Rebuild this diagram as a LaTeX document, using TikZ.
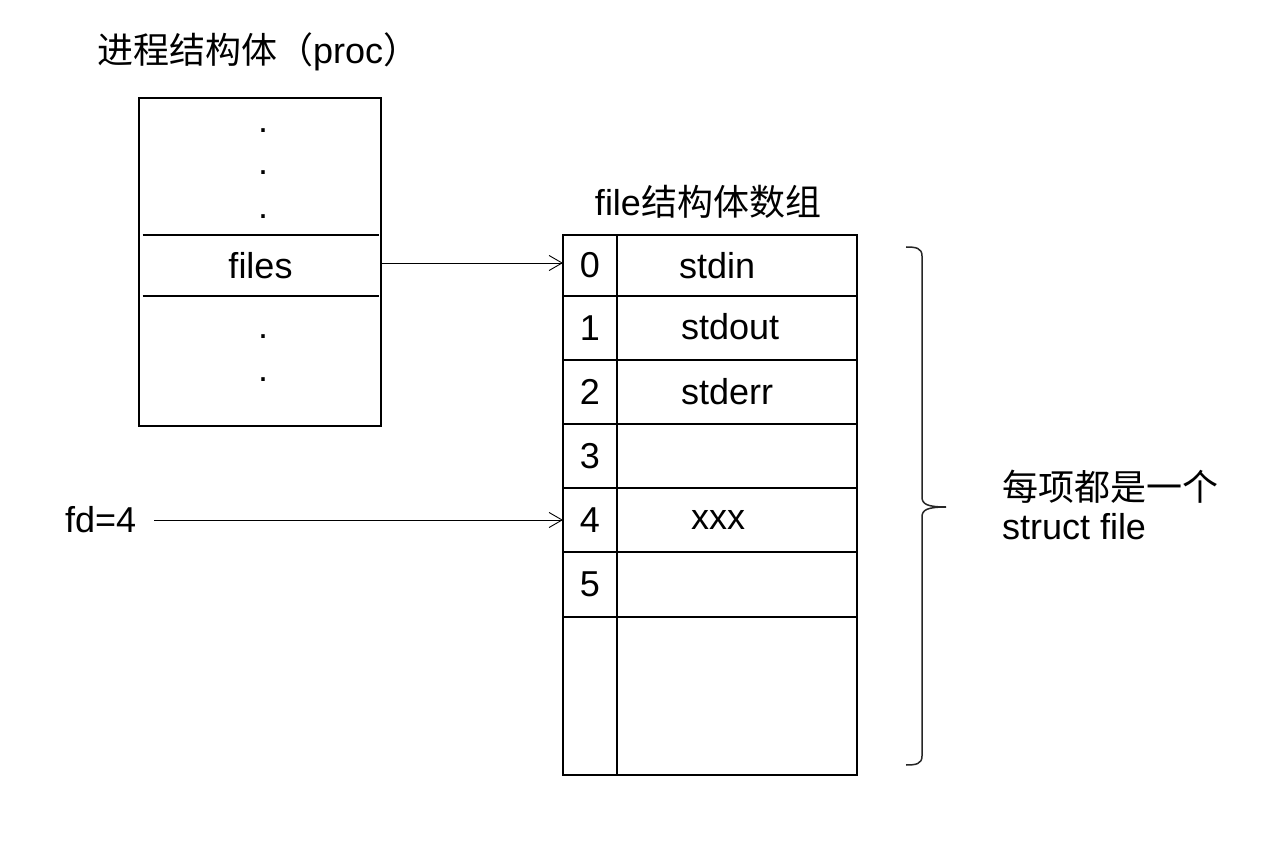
\documentclass[tikz,border=0pt]{standalone}
\usepackage{fontspec}
\setmainfont{Liberation Sans}
\newfontfamily\cjk{Noto Sans CJK SC}
\usetikzlibrary{arrows.meta}
\begin{document}
\begin{tikzpicture}[x=1pt,y=-1pt,
  font=\fontsize{36}{40}\selectfont,
  every node/.style={inner sep=0pt, outer sep=0pt},
  border/.style={line width=1.8pt},
  rowline/.style={line width=1.3pt},
  idx/.style={draw, rowline, minimum width=54, minimum height=#1, anchor=north west},
  val/.style={draw, rowline, minimum width=240, minimum height=#1, anchor=north west},
  ptr/.style={line width=0.9pt, -{Straight Barb[length=13pt,width=15pt,line width=0.9pt]}},
  dotmark/.style={anchor=base},
  bracepath/.style={line width=1.5pt, black!85}]
\fill[white] (0,0) rectangle (1270,842);
\useasboundingbox (0,0) rectangle (1270,842);

% process structure
\node[anchor=west] (title) at (97,52) {{\cjk 进程结构体（}proc{\cjk ）}};
\node[draw, border, minimum width=242, minimum height=328, anchor=north west] (proc) at (139,98) {};
\node[minimum width=236, minimum height=61] (files) at (260.5,265.5) {files};
\draw[border] (files.north west) -- (files.north east);
\draw[border] (files.south west) -- (files.south east);
\node[dotmark] (d1) at (263,133) {.};
\node[dotmark] (d2) at (263,175) {.};
\node[dotmark] (d3) at (263,219) {.};
\node[dotmark] (d4) at (263,339) {.};
\node[dotmark] (d5) at (263,382) {.};

% file array
\node (arrtitle) at (708,202) {file{\cjk 结构体数组}};
\node[idx=61] (i0) at (563,235) {0};
\node[idx=64] (i1) at (563,296) {1};
\node[idx=64] (i2) at (563,360) {2};
\node[idx=64] (i3) at (563,424) {3};
\node[idx=64] (i4) at (563,488) {4};
\node[idx=65] (i5) at (563,552) {5};
\node[idx=158] (i6) at (563,617) {};
\node[val=61] (v0) at (617,235) {};
\node[val=64] (v1) at (617,296) {};
\node[val=64] (v2) at (617,360) {};
\node[val=64] (v3) at (617,424) {};
\node[val=64] (v4) at (617,488) {};
\node[val=65] (v5) at (617,552) {};
\node[val=158] (v6) at (617,617) {};
\draw[border] (i0.north west) rectangle (v6.south east);
\draw[border] (i0.north east) -- (i6.south east);
\node[anchor=west] (t0) at (679,266) {stdin};
\node[anchor=west] (t1) at (681,327) {stdout};
\node[anchor=west] (t2) at (681,392) {stderr};
\node[anchor=west] (t4) at (691,520) {xxx};

% pointers
\draw[ptr] ([yshift=2.5pt]files.east -| proc.east) -- ([yshift=2.5pt]i0.west);
\node[anchor=west] (fd) at (65,520) {fd=4};
\draw[ptr] ([xshift=18pt]fd.east) -- (i4.west);

% brace
\coordinate (btop) at (906,247);
\coordinate (btip) at (946,507);
\coordinate (bbot) at (906,765);
\draw[bracepath] (btop) .. controls (916,247) and (922,248) .. (922,256) -- (922,497)
  .. controls (922,504) and (927,507) .. (btip)
  .. controls (927,507) and (922,510) .. (922,517) -- (922,756)
  .. controls (922,764) and (916,765) .. (bbot);

% note
\node[anchor=west] (note1) at (1002,487) {\cjk 每项都是一个};
\node[anchor=west] (note2) at (1002,527) {struct file};
\end{tikzpicture}
\end{document}
